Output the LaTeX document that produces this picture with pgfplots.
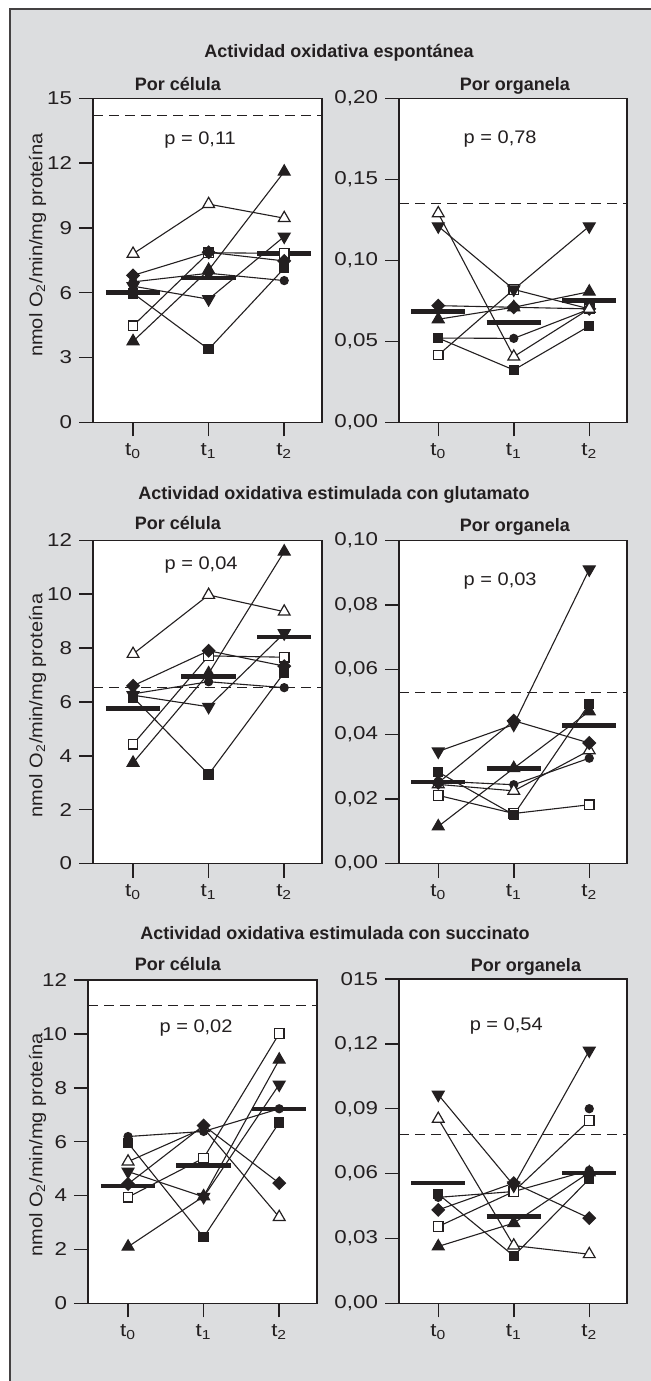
\documentclass[border=0pt]{standalone}
\usepackage{fontspec}
\usepackage{pgfplots}
\pgfplotsset{compat=1.18}
\setmainfont{Liberation Sans}
\newfontfamily\lab[FakeStretch=1.1]{Liberation Sans}
\newfontfamily\labw[FakeStretch=1.2]{Liberation Sans}
\definecolor{ink}{RGB}{35,31,32}
\definecolor{panelbg}{RGB}{220,221,223}

\pgfplotsset{
  panel/.style={
    scale only axis,
    xmin=-0.53, xmax=2.5, ymin=0,
    xtick={0,1,2},
    xticklabels={t\textsubscript{0},t\textsubscript{1},t\textsubscript{2}},
    tick align=outside, tick pos=left,
    major tick length=7pt, minor tick num=0,
    axis line style={line width=0.75pt, color=ink},
    major tick style={line width=0.75pt, color=ink},
    tick label style={font=\labw\fontsize{9.3}{10}\selectfont, text=ink},
    label style={font=\lab\fontsize{9.1}{10}\selectfont, text=ink},
    axis background/.style={fill=white},
  },
  ser/.style={line width=0.55pt, color=ink},
  otri/.style={ser, mark=triangle*, mark size=3.4pt, mark options={solid, line width=0.6pt, fill=white}},
  ftri/.style={ser, mark=triangle*, mark size=3.4pt, mark options={solid, line width=0.6pt, fill=ink}},
  itri/.style={ser, mark=triangle*, mark size=3.4pt, mark options={solid, line width=0.6pt, fill=ink, rotate=180}},
  fdia/.style={ser, mark=square*, mark size=2.2pt, mark options={solid, line width=0.6pt, fill=ink, rotate=45}},
  fsq/.style={ser, mark=square*, mark size=2.3pt, mark options={solid, line width=0.6pt, fill=ink}},
  osq/.style={ser, mark=square*, mark size=2.4pt, mark options={solid, line width=0.6pt, fill=white}},
  fcirc/.style={ser, mark=*, mark size=2pt, mark options={solid, line width=0.6pt, fill=ink}},
  mean/.style={line width=2.2pt, color=ink, no marks},
  refline/.style={line width=0.5pt, color=ink, dash pattern=on 5pt off 3pt, no marks},
}

\newcommand{\ylab}{nmol O\textsubscript{2}/min/mg proteína}

\begin{document}
\begin{tikzpicture}
\useasboundingbox (0,0) rectangle (325.5pt,690.5pt);
\fill[white] (0,0) rectangle (325.5pt,690.5pt);
\fill[panelbg] (4.75pt,0) rectangle (325.5pt,685.75pt);
\draw[ink!85, line width=1pt] (4.75pt,0) -- (4.75pt,685.75pt) -- (325.5pt,685.75pt);

% ---------- titles ----------
\begin{scope}[every node/.style={anchor=base, text=ink, inner sep=0pt}]
\node[font=\bfseries\fontsize{9}{10}\selectfont] at (169.5pt,661.85pt) {Actividad oxidativa espontánea};
\node[font=\bfseries\fontsize{9}{10}\selectfont] at (89pt,645.15pt) {Por célula};
\node[font=\bfseries\fontsize{9}{10}\selectfont] at (257.5pt,645.15pt) {Por organela};

\node[font=\bfseries\fontsize{9}{10}\selectfont] at (167pt,440.5pt) {Actividad oxidativa estimulada con glutamato};
\node[font=\bfseries\fontsize{9}{10}\selectfont] at (89pt,425.5pt) {Por célula};
\node[font=\bfseries\fontsize{9}{10}\selectfont] at (257.5pt,424.5pt) {Por organela};

\node[font=\bfseries\fontsize{9}{10}\selectfont] at (167.5pt,220.75pt) {Actividad oxidativa estimulada con succinato};
\node[font=\bfseries\fontsize{9}{10}\selectfont] at (89pt,205.25pt) {Por célula};
\node[font=\bfseries\fontsize{9}{10}\selectfont] at (263pt,204.5pt) {Por organela};
\end{scope}

% ---------- spontaneous, per cell ----------
\begin{axis}[panel, at={(46.5pt,479.35pt)}, anchor=south west,
  width=114.5pt, height=162pt, ymax=15,
  ytick={0,3,6,9,12,15}, yticklabels={0,3,6,9,12,15},
  ylabel={\ylab}, ylabel style={at={(axis description cs:-0.242,0.547)}, anchor=center}]
\addplot[refline] coordinates {(-0.53,14.2) (2.5,14.2)};
\addplot[mean] coordinates {(-0.36,6.0) (0.36,6.0)};
\addplot[mean] coordinates {(0.64,6.67) (1.36,6.67)};
\addplot[mean] coordinates {(1.64,7.82) (2.36,7.82)};
\addplot[ftri]  coordinates {(0,3.75) (1,7.05) (2,11.6)};
\addplot[itri]  coordinates {(0,6.3) (1,5.7) (2,8.6)};
\addplot[fcirc] coordinates {(0,6.5) (1,6.9) (2,6.56)};
\addplot[fsq]   coordinates {(0,5.97) (1,3.38) (2,7.13)};
\addplot[osq]   coordinates {(0,4.47) (1,7.85) (2,7.82)};
\addplot[fdia]  coordinates {(0,6.8) (1,7.87) (2,7.47)};
\addplot[otri]  coordinates {(0,7.8) (1,10.1) (2,9.45)};
\node[anchor=base, font=\lab\fontsize{9.1}{10}\selectfont, text=ink] at (axis cs:0.887,12.88) {p = 0,11};
\end{axis}

% ---------- spontaneous, per organelle ----------
\begin{axis}[panel, at={(199.5pt,479.35pt)}, anchor=south west,
  width=114pt, height=162pt, xmin=-0.52, ymax=0.20,
  ytick={0,0.05,0.10,0.15,0.20}, yticklabels={{0,00},{0,05},{0,10},{0,15},{0,20}}]
\addplot[refline] coordinates {(-0.52,0.135) (2.5,0.135)};
\addplot[mean] coordinates {(-0.36,0.0683) (0.36,0.0683)};
\addplot[mean] coordinates {(0.64,0.0615) (1.36,0.0615)};
\addplot[mean] coordinates {(1.64,0.0751) (2.36,0.0751)};
\addplot[fcirc] coordinates {(0,0.052) (1,0.0518) (2,0.0698)};
\addplot[osq]   coordinates {(0,0.0415) (1,0.082) (2,0.070)};
\addplot[fdia]  coordinates {(0,0.072) (1,0.071) (2,0.070)};
\addplot[ftri]  coordinates {(0,0.0636) (1,0.071) (2,0.0806)};
\addplot[fsq]   coordinates {(0,0.052) (1,0.0323) (2,0.0594)};
\addplot[itri]  coordinates {(0,0.121) (1,0.082) (2,0.121)};
\addplot[otri]  coordinates {(0,0.129) (1,0.0405) (2,0.070)};
\node[anchor=base, font=\lab\fontsize{9.1}{10}\selectfont, text=ink] at (axis cs:0.82,0.1718) {p = 0,78};
\end{axis}

% ---------- glutamate, per cell ----------
\begin{axis}[panel, at={(46.5pt,258.7pt)}, anchor=south west,
  width=114.5pt, height=161.65pt, ymax=12,
  ytick={0,2,4,6,8,10,12}, yticklabels={0,2,4,6,8,10,12},
  ylabel={\ylab}, ylabel style={at={(axis description cs:-0.242,0.489)}, anchor=center}]
\addplot[refline] coordinates {(-0.53,6.55) (2.5,6.55)};
\addplot[mean] coordinates {(-0.36,5.76) (0.36,5.76)};
\addplot[mean] coordinates {(0.64,6.94) (1.36,6.94)};
\addplot[mean] coordinates {(1.64,8.40) (2.36,8.40)};
\addplot[ftri]  coordinates {(0,3.74) (1,7.06) (2,11.58)};
\addplot[itri]  coordinates {(0,6.25) (1,5.82) (2,8.55)};
\addplot[fcirc] coordinates {(0,6.3) (1,6.75) (2,6.53)};
\addplot[fsq]   coordinates {(0,6.17) (1,3.31) (2,7.09)};
\addplot[osq]   coordinates {(0,4.43) (1,7.71) (2,7.66)};
\addplot[fdia]  coordinates {(0,6.6) (1,7.9) (2,7.33)};
\addplot[otri]  coordinates {(0,7.78) (1,9.97) (2,9.35)};
\node[anchor=base, font=\lab\fontsize{9.1}{10}\selectfont, text=ink] at (axis cs:0.90,10.9) {p = 0,04};
\end{axis}

% ---------- glutamate, per organelle ----------
\begin{axis}[panel, at={(199.5pt,258.7pt)}, anchor=south west,
  width=114pt, height=161.65pt, xmin=-0.52, ymax=0.10,
  ytick={0,0.02,0.04,0.06,0.08,0.10}, yticklabels={{0,00},{0,02},{0,04},{0,06},{0,08},{0,10}}]
\addplot[refline] coordinates {(-0.52,0.053) (2.5,0.053)};
\addplot[mean] coordinates {(-0.36,0.0252) (0.36,0.0252)};
\addplot[mean] coordinates {(0.64,0.0294) (1.36,0.0294)};
\addplot[mean] coordinates {(1.64,0.0427) (2.36,0.0427)};
\addplot[osq]   coordinates {(0,0.0211) (1,0.0155) (2,0.0182)};
\addplot[fcirc] coordinates {(0,0.0255) (1,0.0244) (2,0.0326)};
\addplot[otri]  coordinates {(0,0.0245) (1,0.0225) (2,0.0350)};
\addplot[ftri]  coordinates {(0,0.0115) (1,0.0295) (2,0.0471)};
\addplot[fsq]   coordinates {(0,0.0283) (1,0.0151) (2,0.0494)};
\addplot[itri]  coordinates {(0,0.0347) (1,0.0430) (2,0.0910)};
\addplot[fdia]  coordinates {(0,0.0250) (1,0.0442) (2,0.0373)};
\node[anchor=base, font=\lab\fontsize{9.1}{10}\selectfont, text=ink] at (axis cs:0.82,0.0861) {p = 0,03};
\end{axis}

% ---------- succinate, per cell ----------
\begin{axis}[panel, at={(44pt,38.85pt)}, anchor=south west,
  width=114.5pt, height=161.65pt, ymax=12,
  ytick={0,2,4,6,8,10,12}, yticklabels={0,2,4,6,8,10,12},
  ylabel={\ylab}, ylabel style={at={(axis description cs:-0.22,0.49)}, anchor=center}]
\addplot[refline] coordinates {(-0.53,11.05) (2.5,11.05)};
\addplot[mean] coordinates {(-0.36,4.36) (0.36,4.36)};
\addplot[mean] coordinates {(0.64,5.12) (1.36,5.12)};
\addplot[mean] coordinates {(1.64,7.22) (2.36,7.22)};
\addplot[otri]  coordinates {(0,5.26) (1,6.5) (2,3.20)};
\addplot[fcirc] coordinates {(0,6.19) (1,6.38) (2,7.22)};
\addplot[fsq]   coordinates {(0,5.95) (1,2.45) (2,6.71)};
\addplot[osq]   coordinates {(0,3.94) (1,5.39) (2,10.01)};
\addplot[ftri]  coordinates {(0,2.10) (1,3.97) (2,9.04)};
\addplot[itri]  coordinates {(0,4.89) (1,3.95) (2,8.12)};
\addplot[fdia]  coordinates {(0,4.43) (1,6.60) (2,4.46)};
\node[anchor=base, font=\lab\fontsize{9.1}{10}\selectfont, text=ink] at (axis cs:0.90,10.05) {p = 0,02};
\end{axis}

% ---------- succinate, per organelle ----------
\begin{axis}[panel, at={(199.5pt,38.85pt)}, anchor=south west,
  width=114pt, height=162.15pt, xmin=-0.52, ymax=0.15,
  ytick={0,0.03,0.06,0.09,0.12,0.15}, yticklabels={{0,00},{0,03},{0,06},{0,09},{0,12},{015}}]
\addplot[refline] coordinates {(-0.52,0.078) (2.5,0.078)};
\addplot[mean] coordinates {(-0.36,0.0556) (0.36,0.0556)};
\addplot[mean] coordinates {(0.64,0.0402) (1.36,0.0402)};
\addplot[mean] coordinates {(1.64,0.0602) (2.36,0.0602)};
\addplot[fcirc] coordinates {(0,0.0490) (1,0.0517) (2,0.0615)};
\addplot[fcirc, only marks] coordinates {(2,0.090)};
\addplot[osq]   coordinates {(0,0.0355) (1,0.0517) (2,0.0846)};
\addplot[ftri]  coordinates {(0,0.0263) (1,0.0371) (2,0.0605)};
\addplot[fsq]   coordinates {(0,0.0505) (1,0.0219) (2,0.0575)};
\addplot[otri]  coordinates {(0,0.0853) (1,0.0267) (2,0.0227)};
\addplot[itri]  coordinates {(0,0.0965) (1,0.0545) (2,0.1169)};
\addplot[fdia]  coordinates {(0,0.0432) (1,0.0556) (2,0.0394)};
\node[anchor=base, font=\lab\fontsize{9.1}{10}\selectfont, text=ink] at (axis cs:0.90,0.1262) {p = 0,54};
\end{axis}
\end{tikzpicture}
\end{document}
